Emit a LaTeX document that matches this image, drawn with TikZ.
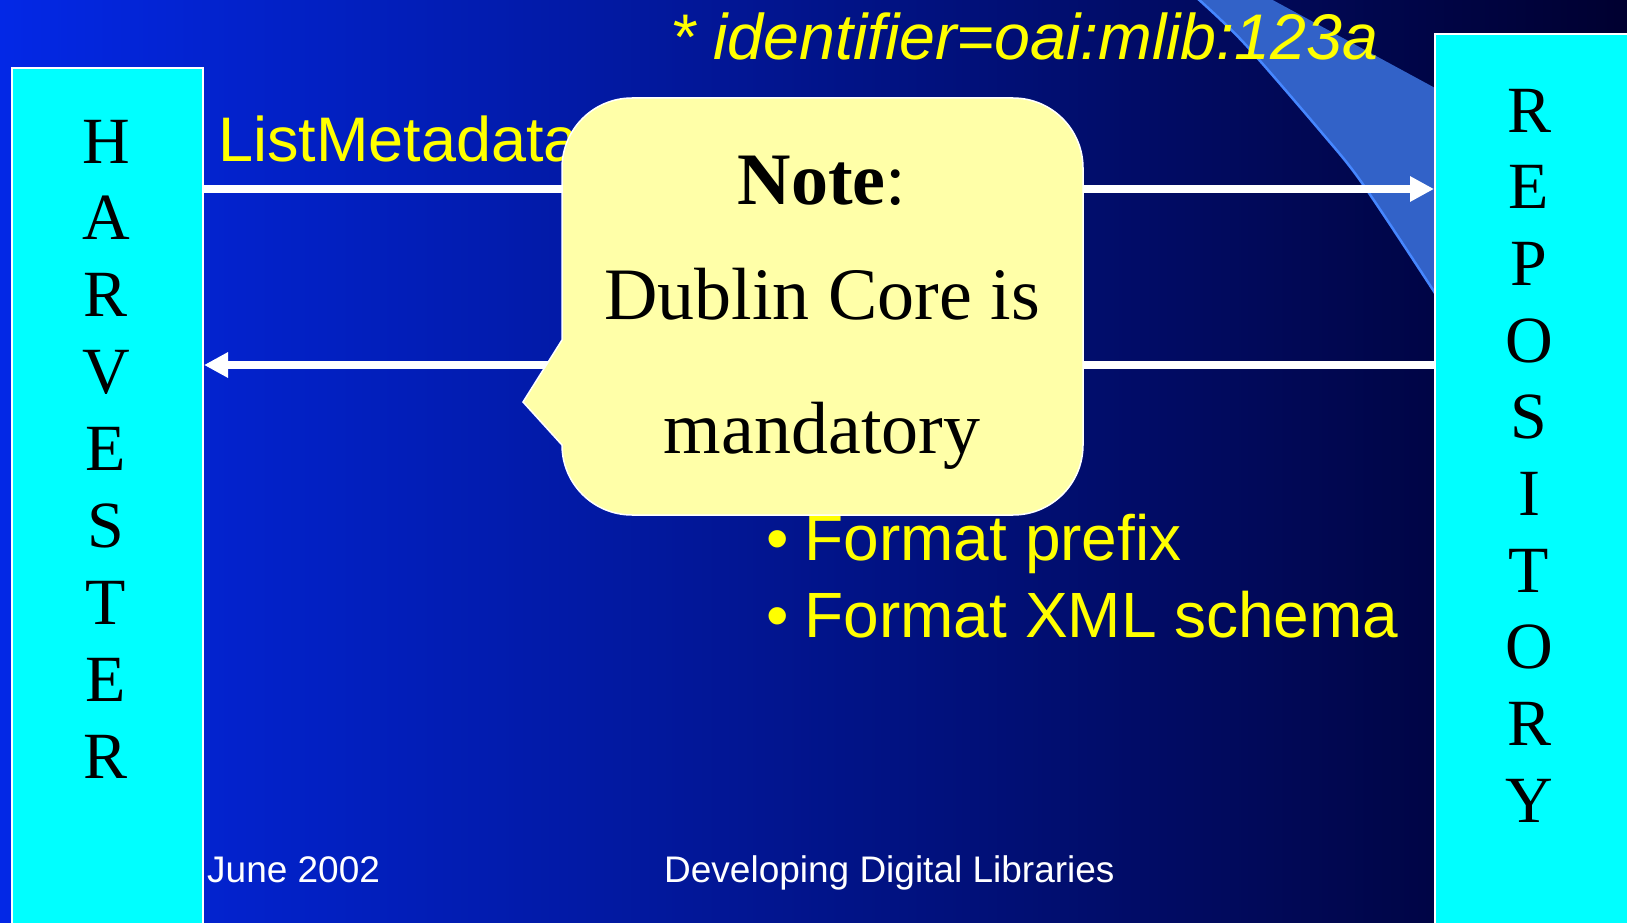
\documentclass[tikz,border=0pt]{standalone}
\usepackage{fontspec}
\setmainfont{Liberation Serif}
\newfontfamily\arialf{Liberation Sans}
\newfontfamily\timesf{Liberation Serif}
\usetikzlibrary{arrows.meta}
\definecolor{bgL}{RGB}{3,40,230}
\definecolor{bgR}{RGB}{0,0,48}
\definecolor{swooshfill}{RGB}{50,98,200}
\definecolor{swooshedge}{RGB}{70,135,255}
\definecolor{boxcyan}{RGB}{0,255,255}
\definecolor{notefill}{RGB}{255,255,168}
\definecolor{ylw}{RGB}{255,255,0}
\begin{document}
\begin{tikzpicture}[x=1pt,y=-1pt,
  sidebox/.style={draw=white,line width=2pt,fill=boxcyan,rectangle,inner sep=0pt,anchor=north west},
  boxletter/.style={font=\timesf\fontsize{66}{70}\selectfont,anchor=base,inner sep=0pt,text=black},
  yellowtxt/.style={font=\arialf\fontsize{63}{70}\selectfont,text=ylw,anchor=base west,inner sep=0pt},
  listtxt/.style={yellowtxt,font=\arialf\fontsize{64}{70}\selectfont},
  idtxt/.style={font=\arialf\itshape\fontsize{64.5}{70}\selectfont,text=ylw,anchor=base west,inner sep=0pt},
  foottxt/.style={font=\arialf\fontsize{37}{40}\selectfont,text=white,anchor=base west,inner sep=0pt},
  notetext/.style={font=\timesf\fontsize{74}{80}\selectfont,text=black,anchor=base,inner sep=0pt},
  flowarrow/.style={draw=white,line width=8pt,-{Triangle[length=24pt,width=24pt]}},
  callout/.style={fill=notefill,draw=white,line width=1.5pt}
]
\useasboundingbox (0,0) rectangle (1627,923);
\clip (0,0) rectangle (1627,923);
% background
\shade[left color=bgL,right color=bgR] (0,0) rectangle (1627,923);
% swoosh
\fill[swooshfill] plot[smooth] coordinates {(1197,-2) (1244,43) (1322,133) (1362,183) (1433,290) (1448,315)}
  -- (1448,95) -- (1269,-2) -- cycle;
\draw[swooshedge,line width=2.5pt] plot[smooth] coordinates {(1197,-2) (1244,43) (1322,133) (1362,183) (1433,290) (1448,315)};
% texts on top
\node[idtxt] (ident) at (670,60) {* identifier=oai:mlib:123a};
\node[yellowtxt] (lmf) at (218,161) {ListMetadata};
% boxes
\node[sidebox,minimum width=191pt,minimum height=900pt] (harv) at (11,67) {};
\node[sidebox,minimum width=250pt,minimum height=950pt] (repo) at (1434,33) {};
\foreach \l [count=\i] in {H,A,R,V,E,S,T,E,R}
  \node[boxletter] (h\i) at (106,{163+76.9*(\i-1)}) {\l};
\foreach \l [count=\i] in {R,E,P,O,S,I,T,O,R,Y}
  \node[boxletter] (r\i) at (1529,{132+76.7*(\i-1)}) {\l};
% arrows
\coordinate (rowA) at (0,189);
\coordinate (rowB) at (0,365);
\draw[flowarrow] (harv.east |- rowA) -- (repo.west |- rowA);
\draw[flowarrow] (repo.west |- rowB) -- (harv.east |- rowB);
% callout
\draw[callout] (562,340) -- (523,402) -- (562,445)
  [rounded corners=70pt] -- (562,515) -- (1083,515) -- (1083,98) -- (562,98) -- (562,340)
  [sharp corners] -- cycle;
\node[notetext] (note1) at (822,204) {\textbf{Note}:};
\node[notetext] (note2) at (822,319) {Dublin Core is};
\node[notetext] (note3) at (822,453) {mandatory};
% bullet list
\node[listtxt] (fmt1) at (766,560) {•\hspace{16pt}Format prefix};
\node[listtxt] (fmt2) at (766,637) {•\hspace{16pt}Format XML schema};
% footer
\node[foottxt] (date) at (207,882) {June 2002};
\node[foottxt] (title) at (664,882) {Developing Digital Libraries};
\end{tikzpicture}
\end{document}
